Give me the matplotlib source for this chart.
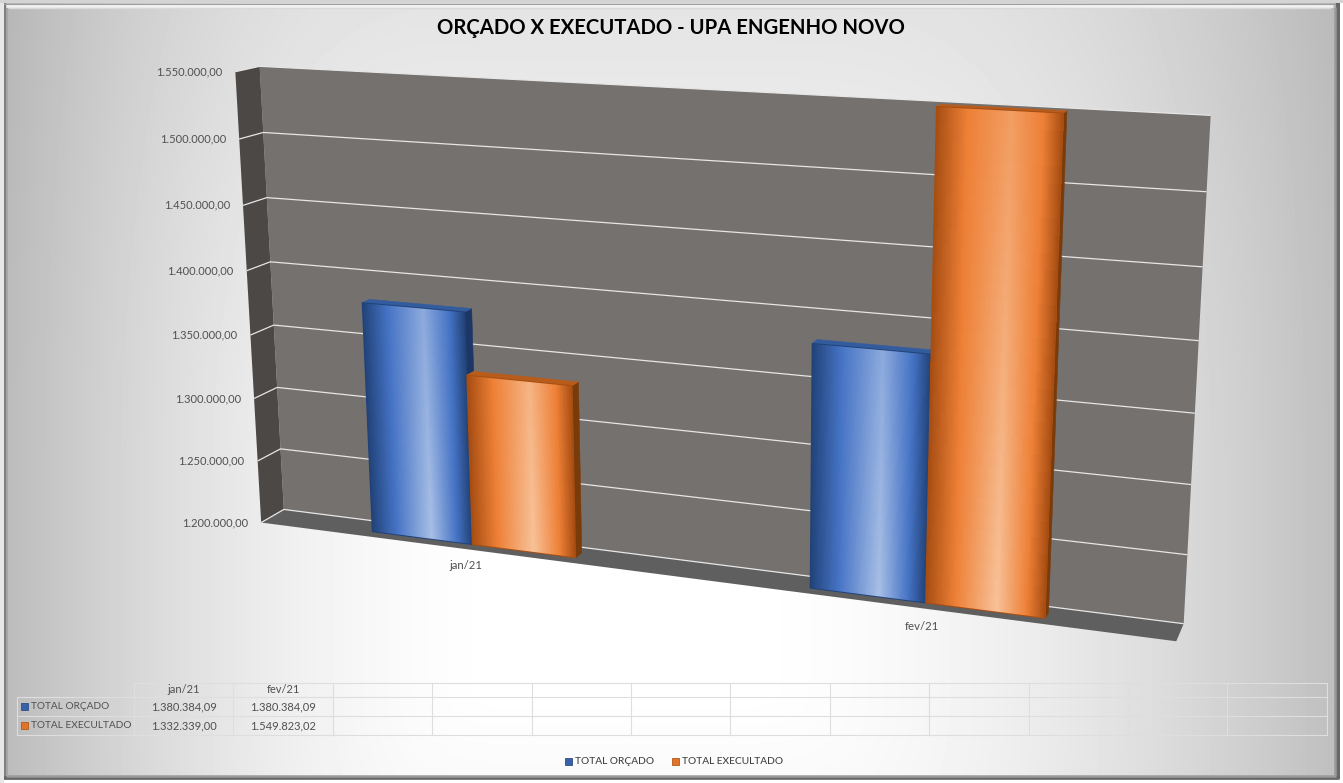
import numpy as np
import matplotlib
matplotlib.use("Agg")
import matplotlib.pyplot as plt
from matplotlib.patches import Polygon, Rectangle

W, H = 1343, 783

# ---- data -------------------------------------------------------------
title = "ORÇADO X EXECUTADO - UPA ENGENHO NOVO"
categories = ["jan/21", "fev/21"]
total_orcado = [1380384.09, 1380384.09]
total_executado = [1332339.00, 1549823.02]
series_names = ["TOTAL ORÇADO", "TOTAL EXECULTADO"]
axis_ticks = [1200000, 1250000, 1300000, 1350000, 1400000, 1450000, 1500000, 1550000]

V_MIN, V_MAX = axis_ticks[0], axis_ticks[-1]
N_SLOTS = 12


def br(v):
    return f"{v:,.2f}".replace(",", "#").replace(".", ",").replace("#", ".")


# ---- 3D projection ---------------------------------------------------
# (u, v, w): u along categories, v along value axis, w depth (0 front, 1 back)
anchors = [
    ((0, 0, 1), (283, 509)), ((1, 0, 1), (1183, 623)),
    ((0, 1, 1), (260, 66)), ((1, 1, 1), (1212, 117)),
    ((0, 0, 0), (262, 523)), ((0, 1, 0), (235, 72)),
    ((1, 0, 0), (1177, 642)), ((1, 1, 0), (1202, 121)),
]
A = []
for (u, v, w), (x, y) in anchors:
    A.append([u, v, w, 1, 0, 0, 0, 0, -x*u, -x*v, -x*w, -x])
    A.append([0, 0, 0, 0, u, v, w, 1, -y*u, -y*v, -y*w, -y])
P = np.linalg.svd(np.array(A, float))[2][-1].reshape(3, 4)


def proj(u, val, w):
    v = (np.asarray(val, float) - V_MIN) / (V_MAX - V_MIN)
    u = np.asarray(u, float)
    w = np.asarray(w, float)
    u, v, w = np.broadcast_arrays(u, v, w)
    q = np.stack([u, v, w, np.ones_like(u, dtype=float)], axis=-1) @ P.T
    return q[..., 0] / q[..., 2], q[..., 1] / q[..., 2]


def quad(pts):
    return np.array([proj(*p) for p in pts])


fig = plt.figure(figsize=(W / 100, H / 100), dpi=100)
ax = fig.add_axes([0, 0, 1, 1])
ax.set_xlim(0, W)
ax.set_ylim(H, 0)
ax.axis("off")
plt.rcParams["font.family"] = ["Lato", "DejaVu Sans"]
TXT = "#505050"

# ---- background -------------------------------------------------------
yy, xx = np.mgrid[0:H, 0:W]
dx = xx - 620.0
dy = np.abs(yy - 590.0)
lx = 0.27 * (np.clip(np.abs(dx) - 100, 0, None) / np.where(dx < 0, 520, 640)) ** 1.8
ly = 0.10 * np.clip(dy - 100, 0, None) / 460
g = np.clip(1 - np.hypot(lx, ly), 0, 1)
ax.imshow(g, cmap="gray", vmin=0, vmax=1, extent=(0, W, H, 0), aspect="auto", zorder=0)

# ---- walls --------------------------------------------------------------
WALL, SIDE, FLOOR = "#75716f", "#4c4846", "#5f5f5f"
GRID = "#e6e6e6"
ax.add_patch(Polygon(quad([(0, V_MIN, 1), (1, V_MIN, 1), (1, V_MAX, 1), (0, V_MAX, 1)]), fc=WALL, ec="none", zorder=1))
ax.add_patch(Polygon(quad([(0, V_MIN, 0), (0, V_MIN, 1), (0, V_MAX, 1), (0, V_MAX, 0)]), fc=SIDE, ec="none", zorder=1))
ax.add_patch(Polygon(quad([(0, V_MIN, 0), (1, V_MIN, 0), (1, V_MIN, 1), (0, V_MIN, 1)]), fc=FLOOR, ec="none", zorder=1))
for tick in axis_ticks:
    xs, ys = proj([0, 0, 1], tick, [0, 1, 1])
    ax.plot(xs, ys, color=GRID, lw=0.9, zorder=2, solid_capstyle="butt")
    lx_, ly_ = proj(0, tick, 0)
    ax.text(lx_ - 13, ly_, br(tick), ha="right", va="center", fontsize=8.0, color=TXT, zorder=8)

# ---- bars ---------------------------------------------------------------
WF, WB = 0.32, 0.66
BW = 0.1205
BLUE = dict(dark=(0.13, 0.26, 0.47), mid=(0.27, 0.45, 0.77), hi=(0.66, 0.75, 0.90),
            top=(0.20, 0.36, 0.62), side=(0.11, 0.21, 0.40))
ORANGE = dict(dark=(0.65, 0.30, 0.07), mid=(0.93, 0.50, 0.21), hi=(0.97, 0.76, 0.60),
              top=(0.72, 0.36, 0.11), side=(0.48, 0.23, 0.04))


def shade(c, s, frac):
    """horizontal gradient at s (0..1), highlight strength frac (0..1, bottom brightest)."""
    hi = np.array(c["mid"]) + (np.array(c["hi"]) - np.array(c["mid"])) * frac
    stops = [0, 0.25, 0.6, 0.85, 1]
    cols = np.array([c["dark"], c["mid"], hi, c["mid"], c["dark"]])
    return np.array([np.interp(s, stops, cols[:, i]) for i in range(3)]).T


def bar(u0, u1, val, c, z):
    nu, nv = 130, 30
    us = np.linspace(u0, u1, nu + 1)
    vals = np.linspace(V_MIN, val, nv + 1)
    U, V = np.meshgrid(us, vals)
    X, Y = proj(U, V, WF)
    s = (np.arange(nu) + .5) / nu
    rgb = np.zeros((nv, nu, 3))
    for j in range(nv):
        vmid = (vals[j] + vals[j + 1]) / 2
        frac = 1 - 0.55 * (vmid - V_MIN) / (V_MAX - V_MIN)
        rgb[j] = shade(c, s, frac)
    ax.add_patch(Polygon(quad([(u1, V_MIN, WF), (u1, V_MIN, WB), (u1, val, WB), (u1, val, WF)]),
                         fc=c["side"], ec=c["side"], lw=0.4, zorder=z))
    ax.add_patch(Polygon(quad([(u0, val, WF), (u1, val, WF), (u1, val, WB), (u0, val, WB)]),
                         fc=c["top"], ec=c["top"], lw=0.4, zorder=z))
    ax.pcolormesh(X, Y, rgb, shading="flat", zorder=z + 0.1, antialiased=False)
    outline = quad([(u0, V_MIN, WF), (u1, V_MIN, WF), (u1, val, WF), (u0, val, WF)])
    ax.add_patch(Polygon(outline, fc="none", ec=c["dark"], lw=0.7, zorder=z + 0.2))


for i, cat in enumerate(categories):
    base = i * 0.5
    bar(base + 0.25 - BW, base + 0.25, total_orcado[i], BLUE, 3 + 2 * i)
    bar(base + 0.25, base + 0.25 + BW, total_executado[i], ORANGE, 4 + 2 * i)
    lx_, ly_ = proj(base + 0.25, V_MIN, 0)
    ax.text(lx_, ly_ + 15.5 + 4 * (base + 0.25), cat, ha="center", va="center", fontsize=8.2, color=TXT, zorder=9)

# ---- title ------------------------------------------------------------
ax.text(671, 28.5, title, ha="center", va="center", fontsize=14.6, fontweight="bold", color="black", zorder=9)

# ---- data table --------------------------------------------------------
X0, XC, CW = 17, 134, 99.4
RY = [683, 697, 716, 735]
TC = "#dedede"
for k in range(N_SLOTS + 1):
    x = XC + k * CW
    ax.plot([x, x], [RY[0], RY[3]], color=TC, lw=0.8, zorder=3)
ax.plot([XC, XC + N_SLOTS * CW], [RY[0], RY[0]], color=TC, lw=0.8, zorder=3)
for y in RY[1:]:
    ax.plot([X0, XC + N_SLOTS * CW], [y, y], color=TC, lw=0.8, zorder=3)
ax.plot([X0, X0], [RY[1], RY[3]], color=TC, lw=0.8, zorder=3)
for k, cat in enumerate(categories):
    ax.text(XC + (k + .5) * CW, 689.5, cat, ha="center", va="center", fontsize=8.0, color=TXT)
rows = [total_orcado, total_executado]
swatch = [(0.22, 0.38, 0.66), (0.89, 0.45, 0.17)]
swatch_edge = ["#2f4f80", "#b35a1a"]
for r, (name, vals) in enumerate(zip(series_names, rows)):
    yc = (RY[r + 1] + RY[r + 2]) / 2
    ax.add_patch(Rectangle((21, yc - 3.5), 7, 7, fc=swatch[r], ec=swatch_edge[r], lw=0.6, zorder=4))
    ax.text(31, yc, name, ha="left", va="center", fontsize=7.3, color=TXT)
    for k, v in enumerate(vals):
        ax.text(XC + (k + .5) * CW, yc, br(v), ha="center", va="center", fontsize=8.0, color=TXT)

# ---- legend -------------------------------------------------------------
for r, (sx, tx) in enumerate([(565, 575), (672, 681.5)]):
    ax.add_patch(Rectangle((sx, 758), 7, 7, fc=swatch[r], ec=swatch_edge[r], lw=0.6, zorder=4))
    ax.text(tx, 761, series_names[r], ha="left", va="center", fontsize=7.3,
            color="#404040", fontweight="medium")

# ---- frame --------------------------------------------------------------
ax.add_patch(Rectangle((0, 780), W, 3, fc="white", ec="none", zorder=20))
ax.add_patch(Rectangle((1340, 0), 3, H, fc="white", ec="none", zorder=20))
ax.add_patch(Rectangle((0, 0), 3.5, H, fc="#e8e8e8", ec="none", zorder=20))
ax.add_patch(Rectangle((0, 0), W, 3, fc="#d4d4d4", ec="none", zorder=20))
frame = [
    ([4.5, 4.5], [3, 779], "#808080", 1.6),
    ([6.8, 6.8], [8, 775], "#a6a6a6", 1.4),
    ([4, 1339], [3.6, 3.6], "#a0a0a0", 1.0),
    ([6, 1333], [6.2, 6.2], "#f2f2f2", 2.0),
    ([8, 1331], [8.4, 8.4], "#d9d9d9", 1.0),
    ([1337.5, 1337.5], [3, 779], "#686868", 3.0),
    ([1334.6, 1334.6], [7, 776], "#999999", 1.8),
    ([4, 1339], [778, 778], "#666666", 2.6),
    ([6, 1336], [775.6, 775.6], "#9a9a9a", 1.8),
]
for xs, ys, col, lw in frame:
    ax.plot(xs, ys, color=col, lw=lw, zorder=19, solid_capstyle="butt")

fig.savefig("out.png", dpi=100)
